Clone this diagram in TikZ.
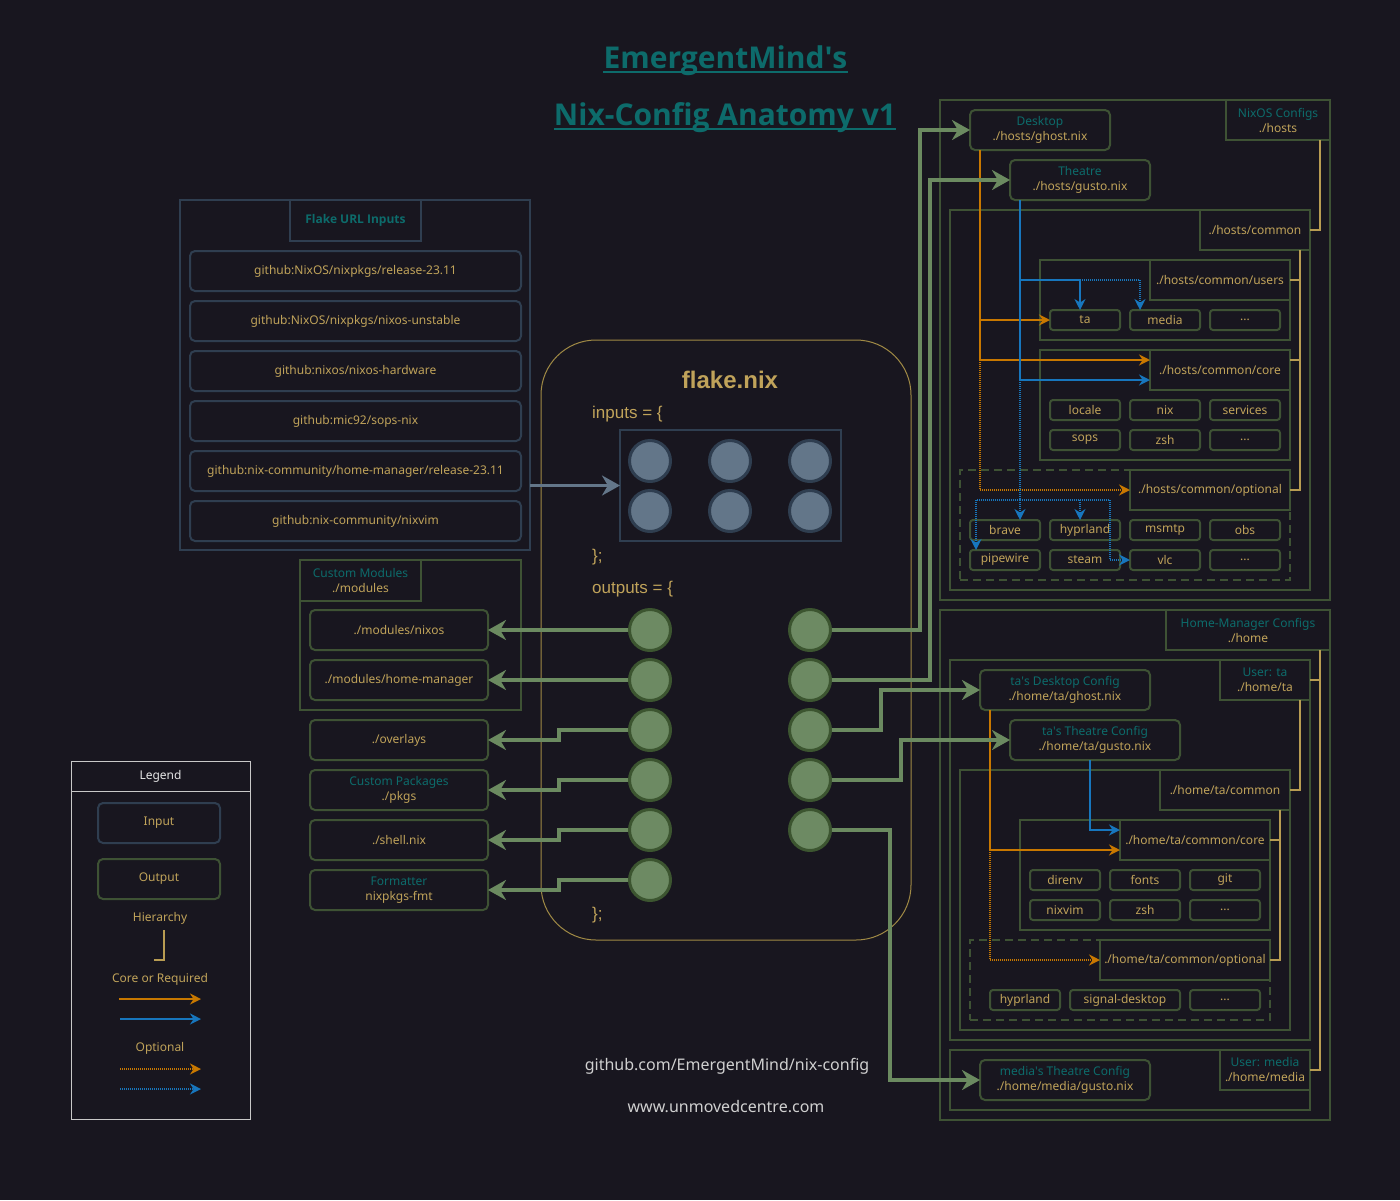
\documentclass[tikz,border=0pt]{standalone}
\usepackage{fontspec}
\setmainfont{Noto Sans}
\newfontfamily\arialf{Liberation Sans}
\newfontfamily\titlef{Open Sans}
\usetikzlibrary{arrows.meta,calc}
\definecolor{bgc}{HTML}{18161F}
\definecolor{frameg}{HTML}{3E5234}
\definecolor{lineg}{HTML}{6B8A60}
\definecolor{circg}{HTML}{6D8A63}
\definecolor{circgb}{HTML}{3C5530}
\definecolor{inb}{HTML}{2F3E50}
\definecolor{inc}{HTML}{637689}
\definecolor{gold}{HTML}{C0A35A}
\definecolor{goldl}{HTML}{B89C52}
\definecolor{tealc}{HTML}{0D6B6B}
\definecolor{orng}{HTML}{C87800}
\definecolor{blu}{HTML}{1776BD}
\definecolor{flakeb}{HTML}{A08A45}
\definecolor{legb}{HTML}{C8C8C8}
\definecolor{foot}{HTML}{D0D0D0}
\newcommand\mybox[7]{\node[#1,minimum width={(#5)-(#3)},minimum height={(#6)-(#4)}] (#2) at ({((#3)+(#5))/2},{((#4)+(#6))/2}) {#7};}
\newcommand\tl[2]{{\color{tealc}#1}\\#2}
\newcommand\apos{\textquotesingle}
\begin{document}
\begin{tikzpicture}[x=1pt,y=-1pt,
  txt/.style={inner sep=0pt,outer sep=0pt,text=gold,font=\fontsize{12}{15}\selectfont,align=center},
  bx/.style={txt},
  inbox/.style={bx,draw=inb,line width=2pt,rounded corners=5pt},
  outbox/.style={bx,draw=frameg,line width=2pt,rounded corners=5pt},
  frm/.style={bx,draw=frameg,line width=2pt},
  inframe/.style={bx,draw=inb,line width=2pt},
  dfrm/.style={bx,draw=frameg,line width=2pt,dash pattern=on 8pt off 5pt},
  itm/.style={bx,draw=frameg,line width=2pt,rounded corners=3pt},
  legf/.style={bx,draw=legb,line width=1pt,text=white!90!black},
  incirc/.style={circle,draw=inb,fill=inc,line width=3pt,minimum size=41pt,inner sep=0pt},
  outcirc/.style={circle,draw=circgb,fill=circg,line width=3pt,minimum size=41pt,inner sep=0pt},
  garrow/.style={draw=lineg,line width=4pt,-{Stealth[length=18pt,width=20pt]}},
  iarrow/.style={draw=inc,line width=3pt,-{Stealth[length=18pt,width=20pt]}},
  hier/.style={draw=goldl,line width=2pt},
  oarr/.style={draw=orng,line width=2pt,-{Stealth[length=11pt,width=11pt]}},
  barr/.style={draw=blu,line width=2pt,-{Stealth[length=11pt,width=11pt]}},
  odot/.style={oarr,dash pattern=on 1pt off 1pt},
  bdot/.style={barr,dash pattern=on 1pt off 1pt},
  ftxt/.style={inner sep=0pt,text=gold,font=\arialf\fontsize{17}{20}\selectfont}
]
\fill[bgc] (0,0) rectangle (1400,1200);
\useasboundingbox (0,0) rectangle (1400,1200);

% title
\node[anchor=base,inner sep=0pt,font=\titlef\fontsize{30}{36}\bfseries,text=tealc] (t1) at (725.5,68) {EmergentMind\apos s};
\node[anchor=base,inner sep=0pt,font=\titlef\fontsize{30}{36}\bfseries,text=tealc] (t2) at (725,125) {Nix-Config Anatomy v1};
\draw[tealc,line width=2.5pt] ([yshift=-4pt]t1.base west) -- ([yshift=-4pt]t1.base east);
\draw[tealc,line width=2.5pt] ([yshift=-4pt]t2.base west) -- ([yshift=-4pt]t2.base east);

% flake url inputs
\mybox{inframe}{urlF}{180}{200}{530}{550}{}
\mybox{inframe,font=\titlef\fontsize{12}{15}\bfseries,text=tealc}{urlT}{290}{200}{421}{241}{Flake URL Inputs}
\mybox{inbox}{u1}{190}{251}{521}{291}{github:NixOS/nixpkgs/release-23.11}
\mybox{inbox}{u2}{190}{301}{521}{341}{github:NixOS/nixpkgs/nixos-unstable}
\mybox{inbox}{u3}{190}{351}{521}{391}{github:nixos/nixos-hardware}
\mybox{inbox}{u4}{190}{401}{521}{441}{github:mic92/sops-nix}
\mybox{inbox}{u5}{190}{451}{521}{491}{github:nix-community/home-manager/release-23.11}
\mybox{inbox}{u6}{190}{501}{521}{541}{github:nix-community/nixvim}

% flake.nix
\mybox{bx,draw=flakeb,line width=1pt,rounded corners=55pt}{flake}{541}{340}{911}{940}{}
\node[ftxt,font=\arialf\bfseries\fontsize{24}{28}\selectfont] (fname) at (730,380) {flake.nix};
\node[ftxt,anchor=west] (fin) at (592,414) {inputs = \{};
\node[ftxt,anchor=west] (fc1) at (592,557) {\};};
\node[ftxt,anchor=west] (fout) at (592,589) {outputs = \{};
\node[ftxt,anchor=west] (fc2) at (592,915) {\};};
\mybox{inframe}{inrect}{620}{430}{841}{541}{}
\draw[iarrow] (urlF.east |- inrect.west) -- (inrect.west);
\foreach \x/\n in {650/a,730/b,810/c}{
  \node[incirc] (i1\n) at (\x,461) {};
  \node[incirc] (i2\n) at (\x,511) {};
}

% custom modules and left outputs
\mybox{frm}{modF}{300}{560}{521}{710}{}
\mybox{frm}{modT}{300}{560}{421}{601}{\tl{Custom Modules}{./modules}}
\mybox{outbox}{mnix}{310}{610}{488}{650}{./modules/nixos}
\mybox{outbox}{mhm}{310}{660}{488}{700}{./modules/home-manager}
\mybox{outbox}{ovl}{310}{720}{488}{760}{./overlays}
\mybox{outbox}{pkgs}{310}{770}{488}{810}{\tl{Custom Packages}{./pkgs}}
\mybox{outbox}{shell}{310}{820}{488}{860}{./shell.nix}
\mybox{outbox}{fmt}{310}{870}{488}{910}{\tl{Formatter}{nixpkgs-fmt}}

% NixOS configs
\mybox{frm}{nixF}{940}{100}{1330}{600}{}
\mybox{frm}{hostsT}{1226}{100}{1330}{140}{\tl{NixOS Configs}{./hosts}}
\mybox{outbox}{desk}{970}{110}{1110}{150}{\tl{Desktop}{./hosts/ghost.nix}}
\mybox{outbox}{theat}{1010}{160}{1150}{200}{\tl{Theatre}{./hosts/gusto.nix}}
\mybox{frm}{comF}{950}{210}{1310}{590}{}
\mybox{frm}{comT}{1200}{210}{1310}{250}{./hosts/common}
\mybox{frm}{usrF}{1040}{260}{1290}{340}{}
\mybox{frm}{usrT}{1150}{260}{1290}{300}{./hosts/common/users}
\mybox{itm}{ta}{1050}{310}{1120}{330}{ta}
\mybox{itm}{media}{1130}{310}{1200}{330}{media}
\mybox{itm}{uetc}{1210}{310}{1280}{330}{...}
\mybox{frm}{corF}{1040}{350}{1290}{460}{}
\mybox{frm}{corT}{1150}{350}{1290}{390}{./hosts/common/core}
\mybox{itm}{locale}{1050}{400}{1120}{420}{locale}
\mybox{itm}{nix}{1130}{400}{1200}{420}{nix}
\mybox{itm}{serv}{1210}{400}{1280}{420}{services}
\mybox{itm}{sops}{1050}{430}{1120}{450}{sops}
\mybox{itm}{zsh}{1130}{430}{1200}{450}{zsh}
\mybox{itm}{cetc}{1210}{430}{1280}{450}{...}
\mybox{dfrm}{optF}{960}{470}{1290}{580}{}
\mybox{frm}{optT}{1130}{470}{1290}{510}{./hosts/common/optional}
\mybox{itm}{brave}{970}{520}{1040}{540}{brave}
\mybox{itm}{hypr}{1050}{520}{1120}{540}{hyprland}
\mybox{itm}{msmtp}{1130}{520}{1200}{540}{msmtp}
\mybox{itm}{obs}{1210}{520}{1280}{540}{obs}
\mybox{itm}{pipe}{970}{550}{1040}{570}{pipewire}
\mybox{itm}{steam}{1050}{550}{1120}{570}{steam}
\mybox{itm}{vlc}{1130}{550}{1200}{570}{vlc}
\mybox{itm}{oetc}{1210}{550}{1280}{570}{...}

% Home manager configs
\mybox{frm}{hmF}{940}{610}{1330}{1120}{}
\mybox{frm}{homeT}{1166}{610}{1330}{650}{\tl{Home-Manager Configs}{./home}}
\mybox{frm}{taUF}{950}{660}{1310}{1040}{}
\mybox{frm}{taUT}{1220}{660}{1310}{700}{\tl{User: ta}{./home/ta}}
\mybox{outbox}{tadesk}{980}{670}{1150}{710}{\tl{ta\apos s Desktop Config}{./home/ta/ghost.nix}}
\mybox{outbox}{tathe}{1010}{720}{1180}{760}{\tl{ta\apos s Theatre Config}{./home/ta/gusto.nix}}
\mybox{frm}{hcomF}{960}{770}{1290}{1030}{}
\mybox{frm}{hcomT}{1160}{770}{1290}{810}{./home/ta/common}
\mybox{frm}{hcorF}{1020}{820}{1270}{930}{}
\mybox{frm}{hcorT}{1120}{820}{1270}{860}{./home/ta/common/core}
\mybox{itm}{direnv}{1030}{870}{1100}{890}{direnv}
\mybox{itm}{fonts}{1110}{870}{1180}{890}{fonts}
\mybox{itm}{git}{1190}{870}{1260}{890}{git}
\mybox{itm}{nixvim}{1030}{900}{1100}{920}{nixvim}
\mybox{itm}{hzsh}{1110}{900}{1180}{920}{zsh}
\mybox{itm}{hcetc}{1190}{900}{1260}{920}{...}
\mybox{dfrm}{hoptF}{970}{940}{1270}{1020}{}
\mybox{frm}{hoptT}{1100}{940}{1270}{980}{./home/ta/common/optional}
\mybox{itm}{hhypr}{990}{990}{1060}{1010}{hyprland}
\mybox{itm}{signal}{1070}{990}{1180}{1010}{signal-desktop}
\mybox{itm}{hoetc}{1190}{990}{1260}{1010}{...}
\mybox{frm}{medF}{950}{1050}{1310}{1110}{}
\mybox{frm}{medT}{1220}{1050}{1310}{1090}{\tl{User: media}{./home/media}}
\mybox{outbox}{medthe}{980}{1060}{1150}{1100}{\tl{media\apos s Theatre Config}{./home/media/gusto.nix}}

% hierarchy lines
\draw[hier] ([xshift=-10pt]hostsT.south east) |- (comT.east);
\draw[hier] ([xshift=-10pt]comT.south east) |- (usrT.east);
\draw[hier] ([xshift=-10pt]comT.south east) |- ([yshift=10pt]corT.east);
\draw[hier] ([xshift=-10pt]comT.south east) |- (optT.east);
\draw[hier] ([xshift=-10pt]homeT.south east) |- (taUT.east);
\draw[hier] ([xshift=-10pt]homeT.south east) |- (medT.east);
\draw[hier] ([xshift=-10pt]taUT.south east) |- (hcomT.east);
\draw[hier] ([xshift=-10pt]hcomT.south east) |- (hcorT.east);
\draw[hier] ([xshift=-10pt]hcomT.south east) |- (hoptT.east);

% NixOS orange
\coordinate (oA) at ([xshift=10pt]desk.south west);
\coordinate (oB) at ([yshift=10pt]corT.west);
\draw[oarr] (oA) |- (ta.west);
\draw[oarr] (oA) |- (oB);
\draw[odot] (oA |- oB) |- (optT.west);
% NixOS blue
\coordinate (bA) at ([xshift=10pt]theat.south west);
\coordinate (bTa) at ([xshift=30pt]ta.north west);
\coordinate (bMe) at ([xshift=10pt]media.north west);
\coordinate (bCore) at ([yshift=-10pt]corT.west);
\coordinate (bY) at ([yshift=10pt]optT.south west);
\coordinate (bPipe) at ([xshift=6pt]pipe.north west);
\coordinate (bHyp) at ([xshift=30pt]hypr.north west);
\coordinate (bVx) at ([xshift=-10pt]hypr.north east);
\draw[bdot] (bTa |- usrT.west) -| (bMe);
\draw[barr] (bA) -- (bA |- usrT.west) -| (bTa);
\draw[barr] (bA) |- (bCore);
\draw[bdot] (bA |- bCore) -- (bA |- brave.north);
\draw[bdot] (bA |- bY) -| (bPipe);
\draw[bdot] (bA |- bY) -| (bHyp);
\draw[bdot] (bA |- bY) -| (bVx |- vlc.west) -- (vlc.west);
% HM orange / blue
\coordinate (hoA) at ([xshift=10pt]tadesk.south west);
\coordinate (hoC) at ([yshift=-10pt]hcorT.west);
\draw[oarr] (hoA) |- (hoC);
\draw[odot] (hoA |- hoC) |- (hoptT.west);
\draw[barr] ([xshift=80pt]tathe.south west) |- ([yshift=10pt]hcorT.west);

% output circles
\foreach \y/\n in {630/1,680/2,730/3,780/4,830/5,880/6}{\node[outcirc] (l\n) at (650,\y) {};}
\foreach \y/\n in {630/1,680/2,730/3,780/4,830/5}{\node[outcirc] (r\n) at (810,\y) {};}
\coordinate (xl) at (559,0);
\coordinate (xr1) at (920,0);
\coordinate (xr2) at (930,0);
\coordinate (xr3) at (881,0);
\coordinate (xr4) at (901,0);
\coordinate (xr5) at (890,0);
\draw[garrow] (l1.west) -- (mnix.east);
\draw[garrow] (l2.west) -- (mhm.east);
\draw[garrow] (l3.west) -- (l3.west -| xl) |- (ovl.east);
\draw[garrow] (l4.west) -- (l4.west -| xl) |- (pkgs.east);
\draw[garrow] (l5.west) -- (l5.west -| xl) |- (shell.east);
\draw[garrow] (l6.west) -- (l6.west -| xl) |- (fmt.east);
\draw[garrow] (r1.east) -- (r1.east -| xr1) |- (desk.west);
\draw[garrow] (r2.east) -- (r2.east -| xr2) |- (theat.west);
\draw[garrow] (r3.east) -- (r3.east -| xr3) |- (tadesk.west);
\draw[garrow] (r4.east) -- (r4.east -| xr4) |- (tathe.west);
\draw[garrow] (r5.east) -- (r5.east -| xr5) |- (medthe.west);

% legend
\mybox{legf}{legT}{71}{761}{250}{791}{Legend}
\mybox{legf}{legB}{71}{791}{250}{1119}{}
\mybox{inbox}{legIn}{98}{803}{220}{843}{Input}
\mybox{outbox}{legOut}{98}{859}{220}{899}{Output}
\node[txt] (legH) at (160,918) {Hierarchy};
\coordinate (lh1) at (164,930);
\coordinate (lh2) at (154,960);
\draw[hier] (lh1) |- (lh2);
\node[txt] (legC) at (160,979) {Core or Required};
\coordinate (la1) at (119,999); \coordinate (la2) at (201,999);
\coordinate (lb1) at (120,1019); \coordinate (lb2) at (201,1019);
\draw[oarr] (la1) -- (la2);
\draw[barr] (lb1) -- (lb2);
\node[txt] (legO) at (160,1048) {Optional};
\coordinate (lc1) at (120,1069); \coordinate (lc2) at (201,1069);
\coordinate (ld1) at (120,1089); \coordinate (ld2) at (201,1089);
\draw[odot] (lc1) -- (lc2);
\draw[bdot] (ld1) -- (ld2);

% footer
\node[inner sep=0pt,font=\fontsize{16}{19}\selectfont,text=foot] (f1) at (727,1066) {github.com/EmergentMind/nix-config};
\node[inner sep=0pt,font=\fontsize{16}{19}\selectfont,text=foot] (f2) at (726,1107) {www.unmovedcentre.com};
\end{tikzpicture}
\end{document}
